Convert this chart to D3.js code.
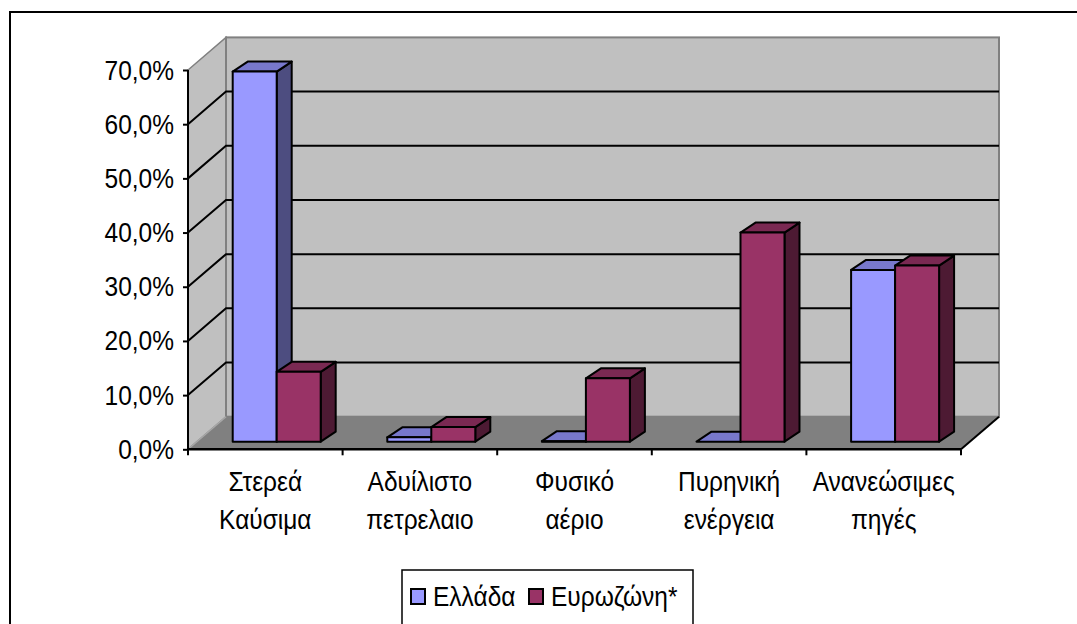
<!DOCTYPE html>
<html>
<head>
<meta charset="utf-8">
<style>
  body { margin: 0; background: #fff; }
  text { font-family: "Liberation Sans", Arial, sans-serif; font-size: 24.5px; fill: #000; }
</style>
</head>
<body>
<svg width="1077" height="624"></svg>
<script src="https://d3js.org/d3.v7.min.js"></script>
<script>

var categories = [
  ["Στερεά", "Καύσιμα"],
  ["Αδυίλιστο", "πετρελαιο"],
  ["Φυσικό", "αέριο"],
  ["Πυρηνική", "ενέργεια"],
  ["Ανανεώσιμες", "πηγές"]
];
var series = ["Ελλάδα", "Ευρωζώνη*"];
var greece = [68.3, 0.8, 0.1, 0.0, 31.7];
var eurozone = [12.9, 2.7, 11.7, 38.6, 32.5];
var yTicks = [0, 10, 20, 30, 40, 50, 60, 70];

var svg = d3.select("svg");

// front face of the plot, then depth of the walls
var plotLeft = 188, plotRight = 961, plotBottom = 449.3, plotTop = 70;
var depth = { x: 38, y: -32.6 };
var barPlane = { x: 11.4, y: -7.6 };
var barDepth = { x: 15, y: -10 };
var stretch = 1.1; // text in the original is drawn a little tall

var y = d3.scaleLinear().domain([0, 70]).range([plotBottom, plotTop]);
var x0 = d3.scaleBand().domain(d3.range(categories.length)).range([plotLeft, plotRight]);
var x1 = d3.scaleBand().domain(series).range([0, x0.bandwidth()]).paddingOuter(0.757);

var greek = d3.formatLocale({ decimal: ",", thousands: ".", grouping: [3], currency: ["", "€"] });
var fmt = function(d) { return greek.format(".1f")(d) + "%"; };

var colors = {
  "Ελλάδα": { front: "#9999FF", top: "#7878CC", side: "#4D4D80" },
  "Ευρωζώνη*": { front: "#993366", top: "#7A2952", side: "#4D1A33" }
};

function pts(a) { return a.map(function(p) { return p.join(","); }).join(" "); }
function place(x, y) { return "translate(" + x + "," + y + ") scale(1," + stretch + ")"; }

// outer frame
svg.append("rect")
    .attr("x", 10).attr("y", 12).attr("width", 1100).attr("height", 700)
    .attr("fill", "#fff").attr("stroke", "#000").attr("stroke-width", 2);

var bx0 = plotLeft + depth.x, bx1 = plotRight + depth.x;

// side wall
svg.append("polygon")
    .attr("points", pts([[plotLeft, plotBottom], [plotLeft, plotTop], [bx0, plotTop + depth.y], [bx0, plotBottom + depth.y]]))
    .attr("fill", "#C0C0C0").attr("stroke", "#808080").attr("stroke-width", 1.5);

// back wall
svg.append("rect")
    .attr("x", bx0).attr("y", plotTop + depth.y)
    .attr("width", bx1 - bx0).attr("height", plotBottom - plotTop)
    .attr("fill", "#C0C0C0").attr("stroke", "#808080").attr("stroke-width", 2);

// floor
svg.append("polygon")
    .attr("points", pts([[plotLeft, plotBottom], [plotRight, plotBottom], [bx1, plotBottom + depth.y], [bx0, plotBottom + depth.y]]))
    .attr("fill", "#808080");
svg.append("line")
    .attr("x1", plotLeft).attr("y1", plotBottom).attr("x2", bx0).attr("y2", plotBottom + depth.y)
    .attr("stroke", "#A8A8A8").attr("stroke-width", 1.5);
svg.append("line")
    .attr("x1", plotRight).attr("y1", plotBottom).attr("x2", bx1).attr("y2", plotBottom + depth.y)
    .attr("stroke", "#000").attr("stroke-width", 2);

// gridlines on side and back walls
var grid = yTicks.filter(function(d) { return d > 0 && d < 70; });
svg.append("g").selectAll("path")
  .data(grid)
  .join("path")
    .attr("d", function(d) {
      return "M" + plotLeft + "," + y(d) + "L" + bx0 + "," + (y(d) + depth.y) + "L" + bx1 + "," + (y(d) + depth.y);
    })
    .attr("fill", "none").attr("stroke", "#000").attr("stroke-width", 2);

// y axis
var yAxis = svg.append("g")
    .attr("transform", "translate(" + plotLeft + ",0)")
    .call(d3.axisLeft(y).tickValues(yTicks).tickFormat(fmt).tickSize(5).tickPadding(9));
yAxis.attr("font-size", null).attr("font-family", null);
yAxis.select(".domain").attr("stroke-width", 2).attr("d", "M0," + plotBottom + "V" + plotTop);
yAxis.selectAll(".tick line").attr("stroke-width", 2);
yAxis.selectAll(".tick text")
    .attr("x", null).attr("dy", null)
    .attr("transform", place(-14, 9));

// x axis
var xAxis = svg.append("g")
    .attr("transform", "translate(0," + plotBottom + ")");
xAxis.append("line")
    .attr("x1", plotLeft).attr("x2", plotRight).attr("y1", 0).attr("y2", 0)
    .attr("stroke", "#000").attr("stroke-width", 2.5);
xAxis.selectAll("line.tk")
  .data(d3.range(categories.length + 1))
  .join("line").attr("class", "tk")
    .attr("x1", function(i) { return plotLeft + i * x0.step(); })
    .attr("x2", function(i) { return plotLeft + i * x0.step(); })
    .attr("y1", 0).attr("y2", 6)
    .attr("stroke", "#000").attr("stroke-width", 2);
var catLabels = xAxis.selectAll("text")
  .data(categories)
  .join("text")
    .attr("text-anchor", "middle")
    .attr("transform", function(d, i) { return place(x0(i) + x0.bandwidth() / 2, 41.5); });
catLabels.append("tspan")
    .attr("x", 0)
    .text(function(d) { return d[0]; });
catLabels.append("tspan")
    .attr("x", 0)
    .attr("dy", 38 / stretch)
    .text(function(d) { return d[1]; });

// bars
var rows = [];
categories.forEach(function(c, i) {
  rows.push({ i: i, s: series[0], v: greece[i] });
  rows.push({ i: i, s: series[1], v: eurozone[i] });
});

var bars = svg.append("g")
    .attr("transform", "translate(" + barPlane.x + "," + barPlane.y + ")")
  .selectAll("g")
  .data(rows)
  .join("g");

bars.each(function(d) {
  var g = d3.select(this);
  var xa = x0(d.i) + x1(d.s), xb = xa + x1.bandwidth();
  var yt = y(d.v), yb = y(0);
  var c = colors[d.s];
  g.append("polygon")
      .attr("points", pts([[xb, yb], [xb + barDepth.x, yb + barDepth.y], [xb + barDepth.x, yt + barDepth.y], [xb, yt]]))
      .attr("fill", c.side);
  g.append("polygon")
      .attr("points", pts([[xa, yt], [xb, yt], [xb + barDepth.x, yt + barDepth.y], [xa + barDepth.x, yt + barDepth.y]]))
      .attr("fill", c.top);
  g.append("rect")
      .attr("x", xa).attr("y", yt).attr("width", xb - xa).attr("height", yb - yt)
      .attr("fill", c.front);
  g.selectAll("polygon, rect")
      .attr("stroke", "#000").attr("stroke-width", 2).attr("stroke-linejoin", "round");
});

// legend
var legend = svg.append("g");
legend.append("rect")
    .attr("x", 402).attr("y", 570).attr("width", 291).attr("height", 70)
    .attr("fill", "#fff").attr("stroke", "#000").attr("stroke-width", 1.5);
var legendX = [411, 529];
var items = legend.selectAll("g")
  .data(series)
  .join("g")
    .attr("transform", function(d, i) { return "translate(" + legendX[i] + ",589)"; });
items.append("rect")
    .attr("width", 14).attr("height", 15)
    .attr("fill", function(d) { return colors[d].front; })
    .attr("stroke", "#000").attr("stroke-width", 2);
items.append("text")
    .attr("transform", place(22, 16.5))
    .text(function(d) { return d; });

</script>
</body>
</html>
